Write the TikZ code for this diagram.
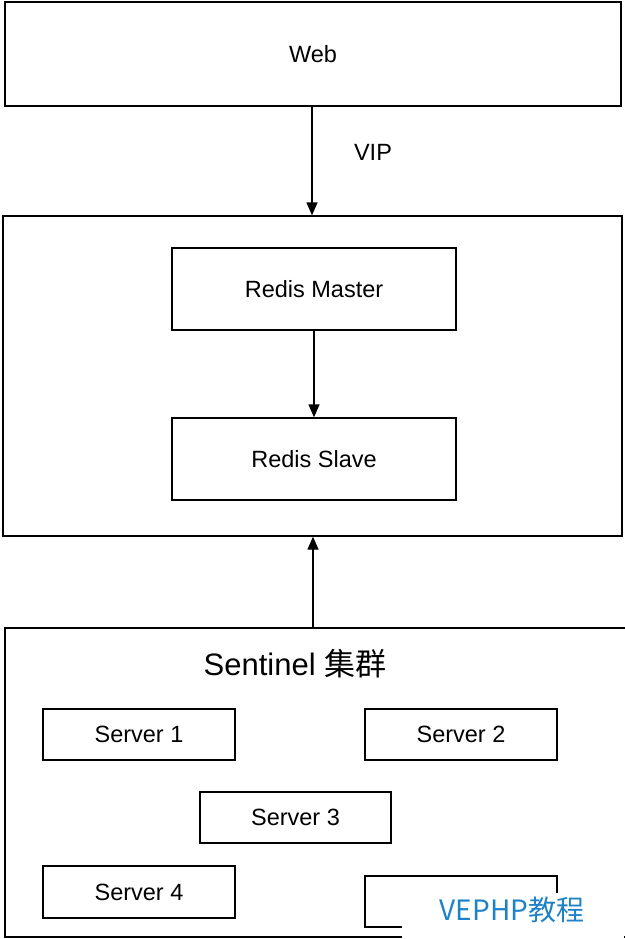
\documentclass[tikz,border=0pt]{standalone}
\usepackage{fontspec}
\setmainfont{Liberation Sans}
\newfontfamily\cjk{Noto Sans CJK SC}
\usetikzlibrary{arrows.meta}
\definecolor{wm}{RGB}{30,130,200}
\begin{document}
\begin{tikzpicture}[x=1pt,y=-1pt,
 box/.style={draw,line width=1.3pt,inner sep=0pt},
 lbl/.style={font=\fontsize{23.5}{27}\selectfont},
 arr/.style={line width=1.3pt,-{Triangle[length=13pt,width=11pt]}}]
\useasboundingbox (0,0) rectangle (624,939);
\node[box,minimum width=616pt,minimum height=104pt,lbl] (web) at (313,54) {Web};
\node[box,minimum width=619pt,minimum height=320pt] (mid) at (312.5,376) {};
\node[box,minimum width=284pt,minimum height=82pt,lbl] (master) at (314,289) {Redis Master};
\node[box,minimum width=284pt,minimum height=82pt,lbl] (slave) at (314,459) {Redis Slave};
\node[box,minimum width=622pt,minimum height=309pt] (sen) at (316,782.5) {};
\node[font=\fontsize{31}{35}\selectfont] (sl) at (295,664) {Sentinel {\cjk 集群}};
\node[box,minimum width=192pt,minimum height=51pt,lbl] (s1) at (139,734.5) {Server 1};
\node[box,minimum width=192pt,minimum height=51pt,lbl] (s2) at (461,734.5) {Server 2};
\node[box,minimum width=191pt,minimum height=51pt,lbl] (s3) at (295.5,817.5) {Server 3};
\node[box,minimum width=192pt,minimum height=52pt,lbl] (s4) at (139,892) {Server 4};
\node[box,minimum width=192pt,minimum height=51pt] (s5) at (461,901.5) {};
\draw[arr] (web.south -| 312,0) -- (mid.north -| 312,0);
\node[lbl] (vip) at (373,152) {VIP};
\draw[arr] (master) -- (slave);
\draw[arr] (sen.north -| 313,0) -- (mid.south -| 313,0);
\fill[white] (402,893) rectangle (624,939);
\node[text=wm,font=\cjk\fontsize{28}{30}\selectfont] (wmk) at (512,910) {VEPHP教程};
\end{tikzpicture}
\end{document}
